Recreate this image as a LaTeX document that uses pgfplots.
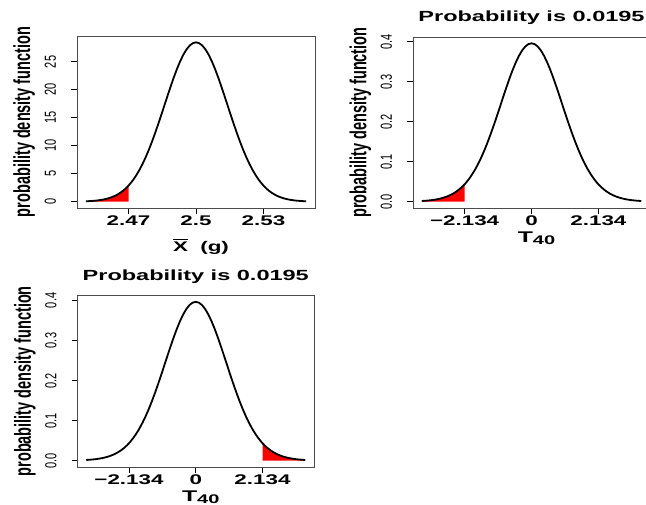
\documentclass[border=0pt]{standalone}
\usepackage{fontspec}
\setmainfont{Liberation Sans}
\usepackage{graphicx}
\usepackage{pgfplots}
\pgfplotsset{compat=1.18}
\usepackage{pgfplotstable}

\newcommand{\SX}[1]{\scalebox{1.6}[1]{#1}}
\newcommand{\xt}[1]{\SX{\bfseries\fontsize{14}{16}\selectfont #1}}
\newcommand{\yt}[1]{\raisebox{0pt}[\height][15pt]{\scalebox{1}[1.45]{\fontsize{11}{12}\selectfont #1}}}
\newcommand{\ylab}{\scalebox{1}[1.6]{\bfseries\fontsize{14.5}{16}\selectfont probability density function}}
\newcommand{\ttl}{\SX{\bfseries\fontsize{14.7}{17}\selectfont Probability is 0.0195}}
\newcommand{\tlab}{\SX{\bfseries\fontsize{15.5}{18}\selectfont T\raisebox{-1.5pt}{\fontsize{12.5}{14}\selectfont 40}}}
\newcommand{\xlab}{\SX{\bfseries\fontsize{14}{16}\selectfont \vbox{\hrule height 1.4pt\kern2.2pt\hbox{X}}\hspace{0.55em}(g)}}

% Panel 1: density of the sample mean (g)
\pgfplotstableread{
x y
2.4510 0.062
2.4524 0.088
2.4538 0.123
2.4552 0.170
2.4566 0.233
2.4580 0.317
2.4594 0.425
2.4608 0.565
2.4622 0.744
2.4636 0.970
2.4650 1.252
2.4664 1.600
2.4678 2.023
2.4692 2.534
2.4700 2.868
2.4706 3.142
2.4720 3.857
2.4734 4.687
2.4748 5.639
2.4762 6.718
2.4776 7.923
2.4790 9.251
2.4804 10.695
2.4818 12.241
2.4832 13.871
2.4846 15.561
2.4860 17.284
2.4874 19.006
2.4888 20.692
2.4902 22.304
2.4916 23.802
2.4930 25.148
2.4944 26.305
2.4958 27.242
2.4972 27.932
2.4986 28.354
2.5000 28.496
2.5014 28.354
2.5028 27.932
2.5042 27.242
2.5056 26.305
2.5070 25.148
2.5084 23.802
2.5098 22.304
2.5112 20.692
2.5126 19.006
2.5140 17.284
2.5154 15.561
2.5168 13.871
2.5182 12.241
2.5196 10.695
2.5210 9.251
2.5224 7.923
2.5238 6.718
2.5252 5.639
2.5266 4.687
2.5280 3.857
2.5294 3.142
2.5308 2.534
2.5322 2.023
2.5336 1.600
2.5350 1.252
2.5364 0.970
2.5378 0.744
2.5392 0.565
2.5406 0.425
2.5420 0.317
2.5434 0.233
2.5448 0.170
2.5462 0.123
2.5476 0.088
2.5490 0.062
}\curveA

\pgfplotstableread{
x y
2.4510 0.062
2.4524 0.088
2.4538 0.123
2.4552 0.170
2.4566 0.233
2.4580 0.317
2.4594 0.425
2.4608 0.565
2.4622 0.744
2.4636 0.970
2.4650 1.252
2.4664 1.600
2.4678 2.023
2.4692 2.534
2.4700 2.868
}\tailA

% Panels 2 and 3: t density, 40 df
\pgfplotstableread{
t f
-3.5 0.00166
-3.4 0.00218
-3.3 0.00285
-3.2 0.00371
-3.1 0.00480
-3.0 0.00619
-2.9 0.00793
-2.8 0.01011
-2.7 0.01282
-2.6 0.01614
-2.5 0.02022
-2.4 0.02515
-2.3 0.03108
-2.2 0.03813
-2.134 0.04347
-2.1 0.04646
-2.0 0.05619
-1.9 0.06744
-1.8 0.08031
-1.7 0.09487
-1.6 0.11115
-1.5 0.12912
-1.4 0.14870
-1.3 0.16973
-1.2 0.19201
-1.1 0.21522
-1.0 0.23898
-0.9 0.26285
-0.8 0.28634
-0.7 0.30888
-0.6 0.32993
-0.5 0.34892
-0.4 0.36530
-0.3 0.37861
-0.2 0.38842
-0.1 0.39443
0.0 0.39646
0.1 0.39443
0.2 0.38842
0.3 0.37861
0.4 0.36530
0.5 0.34892
0.6 0.32993
0.7 0.30888
0.8 0.28634
0.9 0.26285
1.0 0.23898
1.1 0.21522
1.2 0.19201
1.3 0.16973
1.4 0.14870
1.5 0.12912
1.6 0.11115
1.7 0.09487
1.8 0.08031
1.9 0.06744
2.0 0.05619
2.1 0.04646
2.134 0.04347
2.2 0.03813
2.3 0.03108
2.4 0.02515
2.5 0.02022
2.6 0.01614
2.7 0.01282
2.8 0.01011
2.9 0.00793
3.0 0.00619
3.1 0.00480
3.2 0.00371
3.3 0.00285
3.4 0.00218
3.5 0.00166
}\curveT

\pgfplotstableread{
t f
-3.5 0.00166
-3.4 0.00218
-3.3 0.00285
-3.2 0.00371
-3.1 0.00480
-3.0 0.00619
-2.9 0.00793
-2.8 0.01011
-2.7 0.01282
-2.6 0.01614
-2.5 0.02022
-2.4 0.02515
-2.3 0.03108
-2.2 0.03813
-2.134 0.04347
}\tailL

\pgfplotstableread{
t f
2.134 0.04347
2.2 0.03813
2.3 0.03108
2.4 0.02515
2.5 0.02022
2.6 0.01614
2.7 0.01282
2.8 0.01011
2.9 0.00793
3.0 0.00619
3.1 0.00480
3.2 0.00371
3.3 0.00285
3.4 0.00218
3.5 0.00166
}\tailR

\pgfplotsset{
  every axis title/.style={at={(axis description cs:0.5,1)}, anchor=base, yshift=15pt},
  every axis x label/.style={at={(axis description cs:0.5,0)}, anchor=base, yshift=-35pt, xshift=5pt},
  every axis y label/.style={at={(axis description cs:-0.222,0.5)}, anchor=center, rotate=90},
  rbase/.style={
    scale only axis,
    axis line style={black!70, line width=0.8pt},
    tick style={black, line width=0.9pt},
    tick align=outside,
    major tick length=6pt,
    tick pos=left,
    minor tick num=0,
    xticklabel style={anchor=north, inner sep=0pt, yshift=-2pt},
    yticklabel style={rotate=90, anchor=south, inner sep=0pt},
    ylabel={\ylab},
  },
  tbase/.style={
    rbase,
    xmin=-3.78, xmax=3.78,
    ymin=-0.015858, ymax=0.412315,
    xtick={-2.134,0,2.134},
    xticklabels={\xt{−2.134},\xt{0},\xt{2.134}},
    ytick={0,0.1,0.2,0.3,0.4},
    yticklabels={\yt{0.0},\yt{0.1},\yt{0.2},\yt{0.3},\yt{0.4}},
    xlabel={\tlab},
    title={\ttl},
  },
}

\begin{document}
\begin{tikzpicture}[x=1pt,y=1pt]
\useasboundingbox (0,0) rectangle (646,505);
\clip (0,0) rectangle (646,505);

% Panel 1
\begin{axis}[rbase,
  at={(77pt,297pt)}, anchor=south west,
  width=238pt, height=172pt,
  xmin=2.44708, xmax=2.55292,
  ymin=-1.1398, ymax=29.636,
  xtick={2.47,2.5,2.53},
  xticklabels={\xt{2.47},\xt{2.5},\xt{2.53}},
  ytick={0,5,10,15,20,25},
  yticklabels={\yt{0},\yt{5},\yt{10},\yt{15},\yt{20},\yt{25}},
  xlabel={\xlab},
  xlabel style={yshift=-9pt},
]
\addplot[draw=none, fill=red] table[x=x,y=y]{\tailA} \closedcycle;
\addplot[black, line width=1.8pt, line join=round] table[x=x,y=y]{\curveA};
\end{axis}

% Panel 2
\begin{axis}[tbase,
  at={(413pt,297pt)}, anchor=south west,
  width=237pt, height=171pt,
]
\addplot[draw=none, fill=red] table[x=t,y=f]{\tailL} \closedcycle;
\addplot[black, line width=1.8pt, line join=round] table[x=t,y=f]{\curveT};
\end{axis}

% Panel 3
\begin{axis}[tbase,
  at={(77.5pt,38pt)}, anchor=south west,
  width=236.5pt, height=171.5pt,
]
\addplot[draw=none, fill=red] table[x=t,y=f]{\tailR} \closedcycle;
\addplot[black, line width=1.8pt, line join=round] table[x=t,y=f]{\curveT};
\end{axis}
\end{tikzpicture}
\end{document}
